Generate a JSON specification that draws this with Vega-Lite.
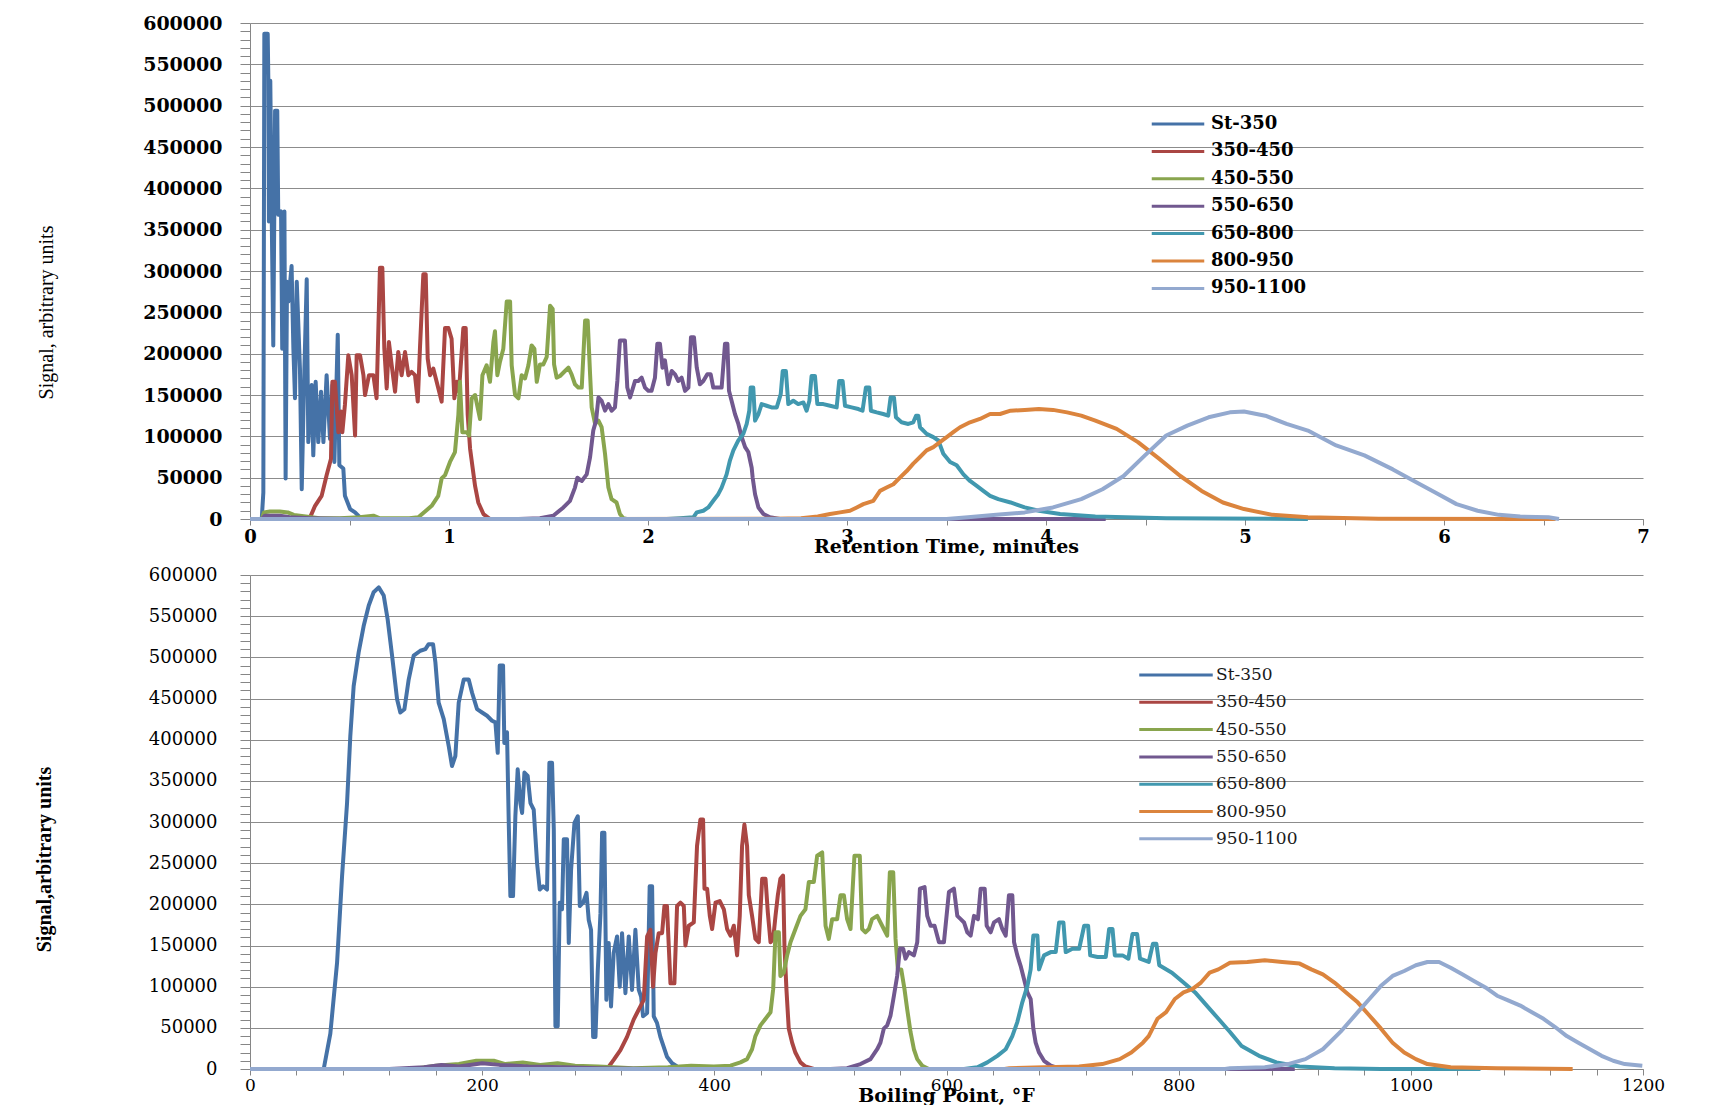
{
"$schema":"https://vega.github.io/schema/vega-lite/v6.json",
"background":"white",
"padding":{"left":34,"top":14,"right":10,"bottom":0},
"spacing":10,
"config":{"view":{"stroke":null},"axis":{"domainColor":"#868686","tickColor":"#868686","gridColor":"#8c8c8c","labelColor":"#000","titleColor":"#000","labelOverlap":false}},
"resolve":{"scale":{"color":"independent"},"legend":{"color":"independent"}},
"datasets":{
"top":[
{"s":"St-350","x":0.059,"y":0},{"s":"St-350","x":0.067,"y":32000},{"s":"St-350","x":0.072,"y":587000},{"s":"St-350","x":0.089,"y":587000},{"s":"St-350","x":0.092,"y":534000},{"s":"St-350","x":0.095,"y":360000},{"s":"St-350","x":0.102,"y":530000},{"s":"St-350","x":0.109,"y":368000},{"s":"St-350","x":0.117,"y":210000},{"s":"St-350","x":0.126,"y":494000},{"s":"St-350","x":0.137,"y":494000},{"s":"St-350","x":0.142,"y":368000},{"s":"St-350","x":0.156,"y":372000},{"s":"St-350","x":0.162,"y":206000},{"s":"St-350","x":0.173,"y":372000},{"s":"St-350","x":0.179,"y":49000},{"s":"St-350","x":0.186,"y":287000},{"s":"St-350","x":0.193,"y":263000},{"s":"St-350","x":0.209,"y":306000},{"s":"St-350","x":0.218,"y":206000},{"s":"St-350","x":0.226,"y":146000},{"s":"St-350","x":0.235,"y":287000},{"s":"St-350","x":0.251,"y":182000},{"s":"St-350","x":0.26,"y":36000},{"s":"St-350","x":0.273,"y":178000},{"s":"St-350","x":0.285,"y":290000},{"s":"St-350","x":0.293,"y":93000},{"s":"St-350","x":0.31,"y":162000},{"s":"St-350","x":0.318,"y":77000},{"s":"St-350","x":0.33,"y":166000},{"s":"St-350","x":0.343,"y":93000},{"s":"St-350","x":0.357,"y":154000},{"s":"St-350","x":0.369,"y":93000},{"s":"St-350","x":0.385,"y":174000},{"s":"St-350","x":0.402,"y":97000},{"s":"St-350","x":0.414,"y":162000},{"s":"St-350","x":0.424,"y":69000},{"s":"St-350","x":0.441,"y":223000},{"s":"St-350","x":0.449,"y":65000},{"s":"St-350","x":0.469,"y":61000},{"s":"St-350","x":0.477,"y":28000},{"s":"St-350","x":0.503,"y":12000},{"s":"St-350","x":0.528,"y":8000},{"s":"St-350","x":0.553,"y":2000},{"s":"St-350","x":0.578,"y":0},{"s":"St-350","x":0.7,"y":0},
{"s":"350-450","x":0.25,"y":0},{"s":"350-450","x":0.302,"y":2000},{"s":"350-450","x":0.327,"y":16000},{"s":"350-450","x":0.36,"y":28000},{"s":"350-450","x":0.385,"y":53000},{"s":"350-450","x":0.407,"y":73000},{"s":"350-450","x":0.414,"y":166000},{"s":"350-450","x":0.427,"y":166000},{"s":"350-450","x":0.444,"y":105000},{"s":"350-450","x":0.457,"y":130000},{"s":"350-450","x":0.464,"y":105000},{"s":"350-450","x":0.477,"y":138000},{"s":"350-450","x":0.494,"y":198000},{"s":"350-450","x":0.511,"y":174000},{"s":"350-450","x":0.528,"y":101000},{"s":"350-450","x":0.536,"y":198000},{"s":"350-450","x":0.553,"y":198000},{"s":"350-450","x":0.57,"y":174000},{"s":"350-450","x":0.578,"y":150000},{"s":"350-450","x":0.598,"y":174000},{"s":"350-450","x":0.62,"y":174000},{"s":"350-450","x":0.636,"y":146000},{"s":"350-450","x":0.653,"y":304000},{"s":"350-450","x":0.665,"y":304000},{"s":"350-450","x":0.675,"y":206000},{"s":"350-450","x":0.687,"y":158000},{"s":"350-450","x":0.698,"y":214000},{"s":"350-450","x":0.712,"y":186000},{"s":"350-450","x":0.729,"y":154000},{"s":"350-450","x":0.745,"y":202000},{"s":"350-450","x":0.762,"y":174000},{"s":"350-450","x":0.779,"y":202000},{"s":"350-450","x":0.796,"y":174000},{"s":"350-450","x":0.812,"y":178000},{"s":"350-450","x":0.829,"y":174000},{"s":"350-450","x":0.843,"y":142000},{"s":"350-450","x":0.854,"y":206000},{"s":"350-450","x":0.871,"y":296000},{"s":"350-450","x":0.883,"y":296000},{"s":"350-450","x":0.893,"y":194000},{"s":"350-450","x":0.905,"y":174000},{"s":"350-450","x":0.921,"y":182000},{"s":"350-450","x":0.938,"y":166000},{"s":"350-450","x":0.963,"y":142000},{"s":"350-450","x":0.98,"y":231000},{"s":"350-450","x":0.997,"y":231000},{"s":"350-450","x":1.013,"y":218000},{"s":"350-450","x":1.027,"y":146000},{"s":"350-450","x":1.039,"y":166000},{"s":"350-450","x":1.05,"y":154000},{"s":"350-450","x":1.072,"y":231000},{"s":"350-450","x":1.084,"y":231000},{"s":"350-450","x":1.094,"y":126000},{"s":"350-450","x":1.106,"y":85000},{"s":"350-450","x":1.117,"y":65000},{"s":"350-450","x":1.131,"y":40000},{"s":"350-450","x":1.147,"y":20000},{"s":"350-450","x":1.173,"y":6000},{"s":"350-450","x":1.206,"y":0},{"s":"350-450","x":1.5,"y":0},
{"s":"450-550","x":0.06,"y":0},{"s":"450-550","x":0.07,"y":8000},{"s":"450-550","x":0.1,"y":9000},{"s":"450-550","x":0.15,"y":9000},{"s":"450-550","x":0.19,"y":8000},{"s":"450-550","x":0.22,"y":5000},{"s":"450-550","x":0.28,"y":3000},{"s":"450-550","x":0.35,"y":1000},{"s":"450-550","x":0.45,"y":1000},{"s":"450-550","x":0.55,"y":2000},{"s":"450-550","x":0.62,"y":4000},{"s":"450-550","x":0.65,"y":1000},{"s":"450-550","x":0.8,"y":1000},{"s":"450-550","x":0.846,"y":2000},{"s":"450-550","x":0.913,"y":16000},{"s":"450-550","x":0.946,"y":28000},{"s":"450-550","x":0.963,"y":49000},{"s":"450-550","x":0.98,"y":53000},{"s":"450-550","x":1.005,"y":69000},{"s":"450-550","x":1.03,"y":81000},{"s":"450-550","x":1.047,"y":126000},{"s":"450-550","x":1.055,"y":166000},{"s":"450-550","x":1.067,"y":105000},{"s":"450-550","x":1.089,"y":105000},{"s":"450-550","x":1.101,"y":101000},{"s":"450-550","x":1.114,"y":146000},{"s":"450-550","x":1.131,"y":150000},{"s":"450-550","x":1.156,"y":121000},{"s":"450-550","x":1.168,"y":174000},{"s":"450-550","x":1.189,"y":186000},{"s":"450-550","x":1.206,"y":166000},{"s":"450-550","x":1.223,"y":214000},{"s":"450-550","x":1.231,"y":227000},{"s":"450-550","x":1.243,"y":174000},{"s":"450-550","x":1.256,"y":190000},{"s":"450-550","x":1.273,"y":206000},{"s":"450-550","x":1.29,"y":263000},{"s":"450-550","x":1.307,"y":263000},{"s":"450-550","x":1.315,"y":186000},{"s":"450-550","x":1.332,"y":150000},{"s":"450-550","x":1.349,"y":146000},{"s":"450-550","x":1.365,"y":174000},{"s":"450-550","x":1.382,"y":170000},{"s":"450-550","x":1.399,"y":186000},{"s":"450-550","x":1.415,"y":210000},{"s":"450-550","x":1.429,"y":206000},{"s":"450-550","x":1.441,"y":166000},{"s":"450-550","x":1.457,"y":187000},{"s":"450-550","x":1.474,"y":187000},{"s":"450-550","x":1.491,"y":196000},{"s":"450-550","x":1.508,"y":258000},{"s":"450-550","x":1.521,"y":254000},{"s":"450-550","x":1.528,"y":187000},{"s":"450-550","x":1.541,"y":171000},{"s":"450-550","x":1.558,"y":173000},{"s":"450-550","x":1.583,"y":179000},{"s":"450-550","x":1.6,"y":183000},{"s":"450-550","x":1.616,"y":175000},{"s":"450-550","x":1.633,"y":163000},{"s":"450-550","x":1.65,"y":159000},{"s":"450-550","x":1.667,"y":159000},{"s":"450-550","x":1.684,"y":240000},{"s":"450-550","x":1.697,"y":240000},{"s":"450-550","x":1.709,"y":175000},{"s":"450-550","x":1.717,"y":135000},{"s":"450-550","x":1.734,"y":115000},{"s":"450-550","x":1.751,"y":119000},{"s":"450-550","x":1.767,"y":111000},{"s":"450-550","x":1.784,"y":79000},{"s":"450-550","x":1.801,"y":38000},{"s":"450-550","x":1.817,"y":24000},{"s":"450-550","x":1.842,"y":20000},{"s":"450-550","x":1.859,"y":6000},{"s":"450-550","x":1.876,"y":1000},{"s":"450-550","x":1.893,"y":0},{"s":"450-550","x":2.2,"y":0},
{"s":"550-650","x":0.06,"y":0},{"s":"550-650","x":0.075,"y":4000},{"s":"550-650","x":0.15,"y":4000},{"s":"550-650","x":0.2,"y":2000},{"s":"550-650","x":0.3,"y":1000},{"s":"550-650","x":0.5,"y":0},{"s":"550-650","x":1.35,"y":0},{"s":"550-650","x":1.457,"y":1000},{"s":"550-650","x":1.524,"y":4000},{"s":"550-650","x":1.575,"y":14000},{"s":"550-650","x":1.608,"y":22000},{"s":"550-650","x":1.633,"y":38000},{"s":"550-650","x":1.645,"y":50000},{"s":"550-650","x":1.667,"y":46000},{"s":"550-650","x":1.692,"y":54000},{"s":"550-650","x":1.709,"y":75000},{"s":"550-650","x":1.725,"y":107000},{"s":"550-650","x":1.739,"y":119000},{"s":"550-650","x":1.751,"y":147000},{"s":"550-650","x":1.767,"y":143000},{"s":"550-650","x":1.784,"y":131000},{"s":"550-650","x":1.801,"y":139000},{"s":"550-650","x":1.817,"y":131000},{"s":"550-650","x":1.834,"y":135000},{"s":"550-650","x":1.846,"y":167000},{"s":"550-650","x":1.859,"y":216000},{"s":"550-650","x":1.884,"y":216000},{"s":"550-650","x":1.896,"y":159000},{"s":"550-650","x":1.91,"y":147000},{"s":"550-650","x":1.935,"y":167000},{"s":"550-650","x":1.951,"y":167000},{"s":"550-650","x":1.968,"y":171000},{"s":"550-650","x":1.985,"y":159000},{"s":"550-650","x":2.002,"y":155000},{"s":"550-650","x":2.018,"y":155000},{"s":"550-650","x":2.035,"y":171000},{"s":"550-650","x":2.047,"y":212000},{"s":"550-650","x":2.06,"y":212000},{"s":"550-650","x":2.073,"y":183000},{"s":"550-650","x":2.085,"y":192000},{"s":"550-650","x":2.102,"y":163000},{"s":"550-650","x":2.119,"y":179000},{"s":"550-650","x":2.136,"y":175000},{"s":"550-650","x":2.152,"y":167000},{"s":"550-650","x":2.169,"y":171000},{"s":"550-650","x":2.186,"y":155000},{"s":"550-650","x":2.203,"y":159000},{"s":"550-650","x":2.216,"y":220000},{"s":"550-650","x":2.231,"y":220000},{"s":"550-650","x":2.245,"y":183000},{"s":"550-650","x":2.261,"y":163000},{"s":"550-650","x":2.278,"y":167000},{"s":"550-650","x":2.298,"y":175000},{"s":"550-650","x":2.315,"y":175000},{"s":"550-650","x":2.328,"y":159000},{"s":"550-650","x":2.345,"y":159000},{"s":"550-650","x":2.37,"y":159000},{"s":"550-650","x":2.387,"y":212000},{"s":"550-650","x":2.399,"y":212000},{"s":"550-650","x":2.407,"y":155000},{"s":"550-650","x":2.42,"y":143000},{"s":"550-650","x":2.437,"y":127000},{"s":"550-650","x":2.454,"y":115000},{"s":"550-650","x":2.471,"y":99000},{"s":"550-650","x":2.488,"y":87000},{"s":"550-650","x":2.504,"y":81000},{"s":"550-650","x":2.521,"y":62000},{"s":"550-650","x":2.526,"y":50000},{"s":"550-650","x":2.538,"y":30000},{"s":"550-650","x":2.555,"y":14000},{"s":"550-650","x":2.58,"y":6000},{"s":"550-650","x":2.613,"y":2000},{"s":"550-650","x":2.663,"y":0},{"s":"550-650","x":4.3,"y":0},
{"s":"650-800","x":2.094,"y":0},{"s":"650-800","x":2.161,"y":1000},{"s":"650-800","x":2.228,"y":2000},{"s":"650-800","x":2.245,"y":8000},{"s":"650-800","x":2.278,"y":10000},{"s":"650-800","x":2.303,"y":14000},{"s":"650-800","x":2.328,"y":22000},{"s":"650-800","x":2.353,"y":30000},{"s":"650-800","x":2.37,"y":38000},{"s":"650-800","x":2.395,"y":54000},{"s":"650-800","x":2.412,"y":71000},{"s":"650-800","x":2.429,"y":83000},{"s":"650-800","x":2.454,"y":95000},{"s":"650-800","x":2.479,"y":103000},{"s":"650-800","x":2.496,"y":115000},{"s":"650-800","x":2.509,"y":131000},{"s":"650-800","x":2.516,"y":159000},{"s":"650-800","x":2.529,"y":159000},{"s":"650-800","x":2.538,"y":119000},{"s":"650-800","x":2.555,"y":127000},{"s":"650-800","x":2.571,"y":139000},{"s":"650-800","x":2.596,"y":137000},{"s":"650-800","x":2.621,"y":135000},{"s":"650-800","x":2.647,"y":135000},{"s":"650-800","x":2.667,"y":151000},{"s":"650-800","x":2.677,"y":179000},{"s":"650-800","x":2.693,"y":179000},{"s":"650-800","x":2.705,"y":139000},{"s":"650-800","x":2.73,"y":143000},{"s":"650-800","x":2.755,"y":139000},{"s":"650-800","x":2.781,"y":141000},{"s":"650-800","x":2.797,"y":131000},{"s":"650-800","x":2.811,"y":143000},{"s":"650-800","x":2.822,"y":173000},{"s":"650-800","x":2.839,"y":173000},{"s":"650-800","x":2.851,"y":139000},{"s":"650-800","x":2.881,"y":139000},{"s":"650-800","x":2.915,"y":137000},{"s":"650-800","x":2.948,"y":135000},{"s":"650-800","x":2.961,"y":167000},{"s":"650-800","x":2.978,"y":167000},{"s":"650-800","x":2.99,"y":137000},{"s":"650-800","x":3.023,"y":135000},{"s":"650-800","x":3.057,"y":133000},{"s":"650-800","x":3.078,"y":131000},{"s":"650-800","x":3.095,"y":159000},{"s":"650-800","x":3.112,"y":159000},{"s":"650-800","x":3.12,"y":131000},{"s":"650-800","x":3.149,"y":129000},{"s":"650-800","x":3.182,"y":127000},{"s":"650-800","x":3.207,"y":125000},{"s":"650-800","x":3.219,"y":147000},{"s":"650-800","x":3.236,"y":147000},{"s":"650-800","x":3.246,"y":123000},{"s":"650-800","x":3.274,"y":117000},{"s":"650-800","x":3.308,"y":115000},{"s":"650-800","x":3.333,"y":117000},{"s":"650-800","x":3.347,"y":125000},{"s":"650-800","x":3.358,"y":125000},{"s":"650-800","x":3.367,"y":111000},{"s":"650-800","x":3.4,"y":103000},{"s":"650-800","x":3.434,"y":99000},{"s":"650-800","x":3.459,"y":95000},{"s":"650-800","x":3.484,"y":79000},{"s":"650-800","x":3.518,"y":69000},{"s":"650-800","x":3.551,"y":65000},{"s":"650-800","x":3.585,"y":54000},{"s":"650-800","x":3.618,"y":46000},{"s":"650-800","x":3.652,"y":40000},{"s":"650-800","x":3.685,"y":34000},{"s":"650-800","x":3.719,"y":28000},{"s":"650-800","x":3.76,"y":24000},{"s":"650-800","x":3.822,"y":20000},{"s":"650-800","x":3.893,"y":14000},{"s":"650-800","x":3.964,"y":10000},{"s":"650-800","x":4.071,"y":6000},{"s":"650-800","x":4.248,"y":3000},{"s":"650-800","x":4.604,"y":1000},{"s":"650-800","x":5.316,"y":0},
{"s":"800-950","x":1.8,"y":0},{"s":"800-950","x":2.638,"y":400},{"s":"800-950","x":2.769,"y":1000},{"s":"800-950","x":2.853,"y":3000},{"s":"800-950","x":2.915,"y":6000},{"s":"800-950","x":2.965,"y":8000},{"s":"800-950","x":3.015,"y":10000},{"s":"800-950","x":3.049,"y":14000},{"s":"800-950","x":3.082,"y":18000},{"s":"800-950","x":3.132,"y":22000},{"s":"800-950","x":3.166,"y":34000},{"s":"800-950","x":3.199,"y":38000},{"s":"800-950","x":3.233,"y":42000},{"s":"800-950","x":3.266,"y":50000},{"s":"800-950","x":3.3,"y":58000},{"s":"800-950","x":3.333,"y":67000},{"s":"800-950","x":3.367,"y":75000},{"s":"800-950","x":3.4,"y":83000},{"s":"800-950","x":3.434,"y":87000},{"s":"800-950","x":3.467,"y":93000},{"s":"800-950","x":3.501,"y":99000},{"s":"800-950","x":3.534,"y":105000},{"s":"800-950","x":3.568,"y":111000},{"s":"800-950","x":3.618,"y":117000},{"s":"800-950","x":3.668,"y":121000},{"s":"800-950","x":3.719,"y":127000},{"s":"800-950","x":3.769,"y":127000},{"s":"800-950","x":3.822,"y":131000},{"s":"800-950","x":3.893,"y":132000},{"s":"800-950","x":3.964,"y":133000},{"s":"800-950","x":4.035,"y":132000},{"s":"800-950","x":4.106,"y":129000},{"s":"800-950","x":4.177,"y":125000},{"s":"800-950","x":4.248,"y":119000},{"s":"800-950","x":4.355,"y":109000},{"s":"800-950","x":4.462,"y":93000},{"s":"800-950","x":4.568,"y":73000},{"s":"800-950","x":4.675,"y":52000},{"s":"800-950","x":4.782,"y":34000},{"s":"800-950","x":4.889,"y":20000},{"s":"800-950","x":4.995,"y":12000},{"s":"800-950","x":5.137,"y":5000},{"s":"800-950","x":5.316,"y":2000},{"s":"800-950","x":5.671,"y":400},{"s":"800-950","x":6.561,"y":0},
{"s":"950-1100","x":0,"y":0},{"s":"950-1100","x":3.5,"y":0},{"s":"950-1100","x":3.608,"y":2000},{"s":"950-1100","x":3.75,"y":5000},{"s":"950-1100","x":3.893,"y":8000},{"s":"950-1100","x":4.035,"y":14000},{"s":"950-1100","x":4.177,"y":24000},{"s":"950-1100","x":4.284,"y":36000},{"s":"950-1100","x":4.39,"y":52000},{"s":"950-1100","x":4.497,"y":77000},{"s":"950-1100","x":4.604,"y":101000},{"s":"950-1100","x":4.71,"y":113000},{"s":"950-1100","x":4.817,"y":123000},{"s":"950-1100","x":4.924,"y":129000},{"s":"950-1100","x":4.995,"y":130000},{"s":"950-1100","x":5.102,"y":125000},{"s":"950-1100","x":5.209,"y":115000},{"s":"950-1100","x":5.316,"y":107000},{"s":"950-1100","x":5.458,"y":89000},{"s":"950-1100","x":5.6,"y":77000},{"s":"950-1100","x":5.743,"y":60000},{"s":"950-1100","x":5.849,"y":46000},{"s":"950-1100","x":5.956,"y":32000},{"s":"950-1100","x":6.063,"y":18000},{"s":"950-1100","x":6.169,"y":10000},{"s":"950-1100","x":6.276,"y":5000},{"s":"950-1100","x":6.383,"y":3000},{"s":"950-1100","x":6.525,"y":2000},{"s":"950-1100","x":6.578,"y":0}
],
"bot":[
{"s":"St-350","x":63.5,"y":0},{"s":"St-350","x":69.2,"y":43000},{"s":"St-350","x":75,"y":129000},{"s":"St-350","x":79.3,"y":234000},{"s":"St-350","x":83.6,"y":323000},{"s":"St-350","x":86.4,"y":404000},{"s":"St-350","x":89.3,"y":465000},{"s":"St-350","x":93.6,"y":506000},{"s":"St-350","x":97.9,"y":538000},{"s":"St-350","x":102.3,"y":563000},{"s":"St-350","x":106.5,"y":579000},{"s":"St-350","x":110.9,"y":585000},{"s":"St-350","x":115.2,"y":575000},{"s":"St-350","x":118.6,"y":546000},{"s":"St-350","x":122.4,"y":502000},{"s":"St-350","x":126.7,"y":449000},{"s":"St-350","x":129.5,"y":433000},{"s":"St-350","x":133,"y":437000},{"s":"St-350","x":136.7,"y":473000},{"s":"St-350","x":141,"y":502000},{"s":"St-350","x":146.7,"y":508000},{"s":"St-350","x":151.1,"y":510000},{"s":"St-350","x":153.9,"y":516000},{"s":"St-350","x":157.7,"y":516000},{"s":"St-350","x":159.7,"y":494000},{"s":"St-350","x":162.5,"y":445000},{"s":"St-350","x":166.9,"y":425000},{"s":"St-350","x":171.2,"y":392000},{"s":"St-350","x":174,"y":368000},{"s":"St-350","x":176.9,"y":380000},{"s":"St-350","x":179.8,"y":445000},{"s":"St-350","x":184.1,"y":473000},{"s":"St-350","x":188.4,"y":473000},{"s":"St-350","x":191.3,"y":457000},{"s":"St-350","x":195.6,"y":437000},{"s":"St-350","x":199.9,"y":433000},{"s":"St-350","x":204.2,"y":429000},{"s":"St-350","x":208.5,"y":423000},{"s":"St-350","x":211.4,"y":421000},{"s":"St-350","x":213.4,"y":384000},{"s":"St-350","x":215.1,"y":490000},{"s":"St-350","x":218,"y":490000},{"s":"St-350","x":219.1,"y":396000},{"s":"St-350","x":221.4,"y":409000},{"s":"St-350","x":222.9,"y":299000},{"s":"St-350","x":224.3,"y":210000},{"s":"St-350","x":226.6,"y":210000},{"s":"St-350","x":228.6,"y":307000},{"s":"St-350","x":230.6,"y":364000},{"s":"St-350","x":232.9,"y":323000},{"s":"St-350","x":234.4,"y":311000},{"s":"St-350","x":236.4,"y":360000},{"s":"St-350","x":239.2,"y":356000},{"s":"St-350","x":241.6,"y":323000},{"s":"St-350","x":244.4,"y":315000},{"s":"St-350","x":247.3,"y":250000},{"s":"St-350","x":249.6,"y":218000},{"s":"St-350","x":252.5,"y":222000},{"s":"St-350","x":255.9,"y":218000},{"s":"St-350","x":257.9,"y":372000},{"s":"St-350","x":260.2,"y":372000},{"s":"St-350","x":261.7,"y":291000},{"s":"St-350","x":263.1,"y":52000},{"s":"St-350","x":265.1,"y":52000},{"s":"St-350","x":266.8,"y":202000},{"s":"St-350","x":268.8,"y":194000},{"s":"St-350","x":270.3,"y":279000},{"s":"St-350","x":273.1,"y":279000},{"s":"St-350","x":274.6,"y":153000},{"s":"St-350","x":276.6,"y":242000},{"s":"St-350","x":279.5,"y":299000},{"s":"St-350","x":282.4,"y":307000},{"s":"St-350","x":284.1,"y":198000},{"s":"St-350","x":287,"y":202000},{"s":"St-350","x":289.9,"y":214000},{"s":"St-350","x":291.8,"y":181000},{"s":"St-350","x":293.8,"y":169000},{"s":"St-350","x":295.6,"y":39000},{"s":"St-350","x":297.6,"y":39000},{"s":"St-350","x":299.6,"y":120000},{"s":"St-350","x":301.9,"y":189000},{"s":"St-350","x":303.3,"y":287000},{"s":"St-350","x":305.3,"y":287000},{"s":"St-350","x":307,"y":84000},{"s":"St-350","x":309,"y":153000},{"s":"St-350","x":311,"y":76000},{"s":"St-350","x":313.3,"y":141000},{"s":"St-350","x":316.2,"y":161000},{"s":"St-350","x":318.5,"y":100000},{"s":"St-350","x":320.5,"y":165000},{"s":"St-350","x":323.4,"y":92000},{"s":"St-350","x":326.3,"y":161000},{"s":"St-350","x":329.1,"y":96000},{"s":"St-350","x":332,"y":169000},{"s":"St-350","x":334.9,"y":96000},{"s":"St-350","x":336.9,"y":88000},{"s":"St-350","x":338.6,"y":64000},{"s":"St-350","x":342.1,"y":68000},{"s":"St-350","x":344.3,"y":222000},{"s":"St-350","x":346.4,"y":222000},{"s":"St-350","x":347.8,"y":64000},{"s":"St-350","x":350.6,"y":56000},{"s":"St-350","x":353.5,"y":39000},{"s":"St-350","x":356.4,"y":27000},{"s":"St-350","x":359.2,"y":15000},{"s":"St-350","x":363.6,"y":7000},{"s":"St-350","x":367.9,"y":3000},{"s":"St-350","x":373.6,"y":0},{"s":"St-350","x":400,"y":0},
{"s":"350-450","x":300,"y":0},{"s":"350-450","x":307.6,"y":0},{"s":"350-450","x":313.3,"y":11000},{"s":"350-450","x":319.1,"y":23000},{"s":"350-450","x":324.8,"y":39000},{"s":"350-450","x":330.5,"y":60000},{"s":"350-450","x":333.4,"y":68000},{"s":"350-450","x":339.2,"y":84000},{"s":"350-450","x":342.1,"y":161000},{"s":"350-450","x":344.9,"y":169000},{"s":"350-450","x":347.2,"y":100000},{"s":"350-450","x":349.3,"y":141000},{"s":"350-450","x":352.1,"y":165000},{"s":"350-450","x":355,"y":165000},{"s":"350-450","x":357,"y":198000},{"s":"350-450","x":359.2,"y":198000},{"s":"350-450","x":362.2,"y":104000},{"s":"350-450","x":365.6,"y":104000},{"s":"350-450","x":367.9,"y":198000},{"s":"350-450","x":370.8,"y":202000},{"s":"350-450","x":373.7,"y":198000},{"s":"350-450","x":375.1,"y":150000},{"s":"350-450","x":378,"y":174000},{"s":"350-450","x":382.3,"y":178000},{"s":"350-450","x":385.1,"y":271000},{"s":"350-450","x":388,"y":303000},{"s":"350-450","x":390.3,"y":303000},{"s":"350-450","x":391.5,"y":219000},{"s":"350-450","x":393.8,"y":219000},{"s":"350-450","x":396.1,"y":186000},{"s":"350-450","x":398.1,"y":170000},{"s":"350-450","x":401,"y":202000},{"s":"350-450","x":404.7,"y":204000},{"s":"350-450","x":408.2,"y":194000},{"s":"350-450","x":411,"y":170000},{"s":"350-450","x":413.9,"y":162000},{"s":"350-450","x":416.8,"y":174000},{"s":"350-450","x":419.6,"y":138000},{"s":"350-450","x":421.9,"y":186000},{"s":"350-450","x":423.9,"y":271000},{"s":"350-450","x":425.9,"y":297000},{"s":"350-450","x":428.2,"y":271000},{"s":"350-450","x":429.7,"y":211000},{"s":"350-450","x":432.5,"y":186000},{"s":"350-450","x":435.4,"y":158000},{"s":"350-450","x":438.3,"y":154000},{"s":"350-450","x":441.2,"y":231000},{"s":"350-450","x":444.1,"y":231000},{"s":"350-450","x":446.1,"y":190000},{"s":"350-450","x":448.4,"y":154000},{"s":"350-450","x":450.7,"y":158000},{"s":"350-450","x":452.7,"y":186000},{"s":"350-450","x":454.7,"y":211000},{"s":"350-450","x":456.9,"y":231000},{"s":"350-450","x":459.2,"y":235000},{"s":"350-450","x":460.4,"y":150000},{"s":"350-450","x":462.1,"y":97000},{"s":"350-450","x":464.1,"y":49000},{"s":"350-450","x":467,"y":32000},{"s":"350-450","x":469.8,"y":20000},{"s":"350-450","x":474.2,"y":8000},{"s":"350-450","x":478.5,"y":3000},{"s":"350-450","x":485.7,"y":0},{"s":"350-450","x":600,"y":0},
{"s":"450-550","x":140,"y":0},{"s":"450-550","x":160,"y":4000},{"s":"450-550","x":180,"y":6000},{"s":"450-550","x":195,"y":10000},{"s":"450-550","x":210,"y":10000},{"s":"450-550","x":220,"y":6000},{"s":"450-550","x":235,"y":8000},{"s":"450-550","x":250,"y":5000},{"s":"450-550","x":265,"y":7000},{"s":"450-550","x":280,"y":4000},{"s":"450-550","x":300,"y":3000},{"s":"450-550","x":330,"y":1000},{"s":"450-550","x":360,"y":2000},{"s":"450-550","x":380,"y":4000},{"s":"450-550","x":399.5,"y":3000},{"s":"450-550","x":413.9,"y":4000},{"s":"450-550","x":422.5,"y":8000},{"s":"450-550","x":428.2,"y":12000},{"s":"450-550","x":432.5,"y":24000},{"s":"450-550","x":435.4,"y":40000},{"s":"450-550","x":439.7,"y":53000},{"s":"450-550","x":444.1,"y":61000},{"s":"450-550","x":448.4,"y":69000},{"s":"450-550","x":450.7,"y":97000},{"s":"450-550","x":452.7,"y":166000},{"s":"450-550","x":455.6,"y":166000},{"s":"450-550","x":456.9,"y":113000},{"s":"450-550","x":459.8,"y":117000},{"s":"450-550","x":462.7,"y":138000},{"s":"450-550","x":465.6,"y":154000},{"s":"450-550","x":469.9,"y":170000},{"s":"450-550","x":474.2,"y":186000},{"s":"450-550","x":478.5,"y":194000},{"s":"450-550","x":481.4,"y":227000},{"s":"450-550","x":485.7,"y":227000},{"s":"450-550","x":488.6,"y":259000},{"s":"450-550","x":492.9,"y":263000},{"s":"450-550","x":495.8,"y":174000},{"s":"450-550","x":498.6,"y":158000},{"s":"450-550","x":501.5,"y":182000},{"s":"450-550","x":505.8,"y":182000},{"s":"450-550","x":508.7,"y":211000},{"s":"450-550","x":511.6,"y":211000},{"s":"450-550","x":514.4,"y":182000},{"s":"450-550","x":517.3,"y":170000},{"s":"450-550","x":520.7,"y":259000},{"s":"450-550","x":525.3,"y":259000},{"s":"450-550","x":527.3,"y":170000},{"s":"450-550","x":530.2,"y":166000},{"s":"450-550","x":533.1,"y":170000},{"s":"450-550","x":535.9,"y":182000},{"s":"450-550","x":540.3,"y":186000},{"s":"450-550","x":543.1,"y":178000},{"s":"450-550","x":546,"y":170000},{"s":"450-550","x":548.9,"y":162000},{"s":"450-550","x":551.2,"y":239000},{"s":"450-550","x":554.1,"y":239000},{"s":"450-550","x":556.1,"y":158000},{"s":"450-550","x":558.1,"y":121000},{"s":"450-550","x":561,"y":121000},{"s":"450-550","x":563.8,"y":97000},{"s":"450-550","x":566.1,"y":73000},{"s":"450-550","x":569,"y":45000},{"s":"450-550","x":571.9,"y":24000},{"s":"450-550","x":574.8,"y":12000},{"s":"450-550","x":579.1,"y":4000},{"s":"450-550","x":584.8,"y":0},{"s":"450-550","x":700,"y":0},
{"s":"550-650","x":120,"y":0},{"s":"550-650","x":150,"y":2000},{"s":"550-650","x":165,"y":5000},{"s":"550-650","x":180,"y":3000},{"s":"550-650","x":200,"y":7000},{"s":"550-650","x":215,"y":5000},{"s":"550-650","x":240,"y":3000},{"s":"550-650","x":270,"y":2000},{"s":"550-650","x":300,"y":1000},{"s":"550-650","x":350,"y":0},{"s":"550-650","x":500.1,"y":0},{"s":"550-650","x":514.4,"y":1000},{"s":"550-650","x":525.9,"y":6000},{"s":"550-650","x":534.5,"y":12000},{"s":"550-650","x":540.3,"y":24000},{"s":"550-650","x":543.1,"y":32000},{"s":"550-650","x":546,"y":49000},{"s":"550-650","x":548.9,"y":53000},{"s":"550-650","x":551.8,"y":65000},{"s":"550-650","x":554.7,"y":89000},{"s":"550-650","x":557.5,"y":113000},{"s":"550-650","x":559.8,"y":146000},{"s":"550-650","x":562.7,"y":146000},{"s":"550-650","x":564.7,"y":134000},{"s":"550-650","x":567.6,"y":142000},{"s":"550-650","x":571.9,"y":138000},{"s":"550-650","x":574.8,"y":154000},{"s":"550-650","x":577.1,"y":219000},{"s":"550-650","x":581.1,"y":221000},{"s":"550-650","x":583.4,"y":186000},{"s":"550-650","x":586.3,"y":174000},{"s":"550-650","x":589.7,"y":174000},{"s":"550-650","x":593.5,"y":154000},{"s":"550-650","x":597.8,"y":154000},{"s":"550-650","x":602.1,"y":215000},{"s":"550-650","x":606.4,"y":219000},{"s":"550-650","x":609.3,"y":186000},{"s":"550-650","x":612.2,"y":182000},{"s":"550-650","x":615.1,"y":178000},{"s":"550-650","x":617.9,"y":166000},{"s":"550-650","x":620.8,"y":162000},{"s":"550-650","x":623.7,"y":186000},{"s":"550-650","x":627.1,"y":182000},{"s":"550-650","x":629.4,"y":219000},{"s":"550-650","x":632.9,"y":219000},{"s":"550-650","x":634.6,"y":174000},{"s":"550-650","x":638,"y":166000},{"s":"550-650","x":640.9,"y":178000},{"s":"550-650","x":645.2,"y":182000},{"s":"550-650","x":648.1,"y":170000},{"s":"550-650","x":651,"y":162000},{"s":"550-650","x":653.8,"y":211000},{"s":"550-650","x":656.7,"y":211000},{"s":"550-650","x":658.2,"y":154000},{"s":"550-650","x":661,"y":138000},{"s":"550-650","x":663.9,"y":125000},{"s":"550-650","x":666.8,"y":109000},{"s":"550-650","x":669.7,"y":93000},{"s":"550-650","x":672.5,"y":85000},{"s":"550-650","x":674.8,"y":49000},{"s":"550-650","x":676.8,"y":32000},{"s":"550-650","x":679.7,"y":20000},{"s":"550-650","x":684,"y":10000},{"s":"550-650","x":689.8,"y":4000},{"s":"550-650","x":698.4,"y":0},{"s":"550-650","x":900,"y":0},
{"s":"650-800","x":600,"y":0},{"s":"650-800","x":615.1,"y":0},{"s":"650-800","x":626.6,"y":2000},{"s":"650-800","x":635.2,"y":8000},{"s":"650-800","x":643.8,"y":16000},{"s":"650-800","x":651,"y":24000},{"s":"650-800","x":656.7,"y":40000},{"s":"650-800","x":661,"y":57000},{"s":"650-800","x":665.3,"y":81000},{"s":"650-800","x":669.7,"y":101000},{"s":"650-800","x":672.5,"y":121000},{"s":"650-800","x":674.8,"y":162000},{"s":"650-800","x":678.3,"y":162000},{"s":"650-800","x":679.7,"y":121000},{"s":"650-800","x":684,"y":138000},{"s":"650-800","x":689.8,"y":142000},{"s":"650-800","x":694.1,"y":142000},{"s":"650-800","x":697,"y":178000},{"s":"650-800","x":700.7,"y":178000},{"s":"650-800","x":702.7,"y":142000},{"s":"650-800","x":708.5,"y":146000},{"s":"650-800","x":714.3,"y":146000},{"s":"650-800","x":718.6,"y":174000},{"s":"650-800","x":722,"y":174000},{"s":"650-800","x":723.8,"y":138000},{"s":"650-800","x":730.1,"y":136000},{"s":"650-800","x":737.2,"y":136000},{"s":"650-800","x":740.1,"y":170000},{"s":"650-800","x":743,"y":170000},{"s":"650-800","x":745,"y":138000},{"s":"650-800","x":751.7,"y":138000},{"s":"650-800","x":756.7,"y":134000},{"s":"650-800","x":760.2,"y":164000},{"s":"650-800","x":764.2,"y":164000},{"s":"650-800","x":766.7,"y":134000},{"s":"650-800","x":774.2,"y":130000},{"s":"650-800","x":777.8,"y":152000},{"s":"650-800","x":780.8,"y":152000},{"s":"650-800","x":783.3,"y":126000},{"s":"650-800","x":794.2,"y":117000},{"s":"650-800","x":804.2,"y":105000},{"s":"650-800","x":814.2,"y":93000},{"s":"650-800","x":824.2,"y":77000},{"s":"650-800","x":834.2,"y":61000},{"s":"650-800","x":844.2,"y":45000},{"s":"650-800","x":854.2,"y":28000},{"s":"650-800","x":869.2,"y":16000},{"s":"650-800","x":884.2,"y":8000},{"s":"650-800","x":904.2,"y":3000},{"s":"650-800","x":934.3,"y":1000},{"s":"650-800","x":974.3,"y":0},{"s":"650-800","x":1060,"y":0},
{"s":"800-950","x":650,"y":0},{"s":"800-950","x":654.2,"y":1000},{"s":"800-950","x":684.2,"y":2000},{"s":"800-950","x":714.2,"y":3000},{"s":"800-950","x":734.2,"y":6000},{"s":"800-950","x":749.2,"y":12000},{"s":"800-950","x":759.2,"y":20000},{"s":"800-950","x":769.2,"y":32000},{"s":"800-950","x":774.2,"y":40000},{"s":"800-950","x":781.7,"y":61000},{"s":"800-950","x":789.2,"y":69000},{"s":"800-950","x":796.7,"y":85000},{"s":"800-950","x":804.2,"y":93000},{"s":"800-950","x":811.7,"y":97000},{"s":"800-950","x":819.2,"y":105000},{"s":"800-950","x":826.7,"y":117000},{"s":"800-950","x":834.2,"y":121000},{"s":"800-950","x":844.2,"y":129000},{"s":"800-950","x":859.2,"y":130000},{"s":"800-950","x":874.2,"y":132000},{"s":"800-950","x":889.2,"y":130000},{"s":"800-950","x":904.2,"y":128000},{"s":"800-950","x":914.2,"y":121000},{"s":"800-950","x":924.2,"y":115000},{"s":"800-950","x":934.2,"y":105000},{"s":"800-950","x":944.2,"y":93000},{"s":"800-950","x":954.2,"y":81000},{"s":"800-950","x":964.3,"y":65000},{"s":"800-950","x":974.3,"y":49000},{"s":"800-950","x":984.3,"y":32000},{"s":"800-950","x":994.3,"y":20000},{"s":"800-950","x":1004.3,"y":12000},{"s":"800-950","x":1014.3,"y":6000},{"s":"800-950","x":1034.3,"y":2000},{"s":"800-950","x":1074.3,"y":1000},{"s":"800-950","x":1139.4,"y":0},
{"s":"950-1100","x":0,"y":0},{"s":"950-1100","x":840,"y":0},{"s":"950-1100","x":844.2,"y":1000},{"s":"950-1100","x":874.2,"y":2000},{"s":"950-1100","x":894.2,"y":6000},{"s":"950-1100","x":909.2,"y":12000},{"s":"950-1100","x":924.2,"y":24000},{"s":"950-1100","x":939.3,"y":45000},{"s":"950-1100","x":954.3,"y":69000},{"s":"950-1100","x":964.3,"y":85000},{"s":"950-1100","x":974.3,"y":101000},{"s":"950-1100","x":984.3,"y":113000},{"s":"950-1100","x":994.3,"y":119000},{"s":"950-1100","x":1004.3,"y":126000},{"s":"950-1100","x":1014.3,"y":130000},{"s":"950-1100","x":1024.3,"y":130000},{"s":"950-1100","x":1034.3,"y":123000},{"s":"950-1100","x":1044.3,"y":115000},{"s":"950-1100","x":1054.3,"y":107000},{"s":"950-1100","x":1064.3,"y":99000},{"s":"950-1100","x":1074.3,"y":89000},{"s":"950-1100","x":1084.3,"y":83000},{"s":"950-1100","x":1094.3,"y":77000},{"s":"950-1100","x":1104.3,"y":69000},{"s":"950-1100","x":1114.3,"y":61000},{"s":"950-1100","x":1124.3,"y":51000},{"s":"950-1100","x":1134.3,"y":40000},{"s":"950-1100","x":1144.3,"y":32000},{"s":"950-1100","x":1154.3,"y":24000},{"s":"950-1100","x":1164.3,"y":16000},{"s":"950-1100","x":1174.3,"y":10000},{"s":"950-1100","x":1184.3,"y":6000},{"s":"950-1100","x":1199.4,"y":4000}
]
},
"vconcat":[
{
"width":1393,"height":496,
"data":{"name":"top"},
"mark":{"type":"line","strokeWidth":4,"strokeJoin":"round"},
"encoding":{
"x":{"field":"x","type":"quantitative","scale":{"domain":[0,7],"nice":false,"zero":false},
"axis":{"title":"Retention Time, minutes","values":[0,0.5,1,1.5,2,2.5,3,3.5,4,4.5,5,5.5,6,6.5,7],"labelExpr":"datum.value % 1 === 0 ? '' + datum.value : ''","labelFlush":false,"grid":false,"tickSize":6,"labelPadding":3,"labelFont":"DejaVu Serif","labelFontWeight":"bold","labelFontSize":18,"titleFont":"DejaVu Serif","titleFontWeight":"bold","titleFontSize":19,"titleX":696,"titleY":27,"titleAlign":"center","titleBaseline":"middle"}},
"y":{"field":"y","type":"quantitative","scale":{"domain":[0,600000],"nice":false},
"axis":{"title":"Signal, arbitrary units","values":[0,10000,20000,30000,40000,50000,60000,70000,80000,90000,100000,110000,120000,130000,140000,150000,160000,170000,180000,190000,200000,210000,220000,230000,240000,250000,260000,270000,280000,290000,300000,310000,320000,330000,340000,350000,360000,370000,380000,390000,400000,410000,420000,430000,440000,450000,460000,470000,480000,490000,500000,510000,520000,530000,540000,550000,560000,570000,580000,590000,600000],"format":"d","labelExpr":"datum.value % 50000 === 0 ? datum.label : ''","grid":true,"gridOpacity":{"condition":{"test":"datum.value % 50000 === 0","value":1},"value":0},"tickSize":10,"labelPadding":18,"labelFont":"DejaVu Serif","labelFontWeight":"bold","labelFontSize":19,"titleFont":"Liberation Serif","titleFontWeight":"normal","titleFontSize":20,"titleX":-204,"titleY":289,"titleAngle":-90,"titleAlign":"center","titleBaseline":"middle"}},
"color":{"field":"s","type":"nominal","scale":{"domain":["St-350","350-450","450-550","550-650","650-800","800-950","950-1100"],"range":["#4572A7","#AA4643","#89A54E","#71588F","#4198AF","#DB843D","#93A9CF"]},
"legend":{"orient":"none","legendX":916,"legendY":89,"title":null,"padding":0,"symbolType":"M-2.5,0H2.5","symbolSize":441,"symbolStrokeWidth":3,"labelFont":"DejaVu Serif","labelFontWeight":"bold","labelFontSize":18,"labelColor":"#000","labelOffset":21,"rowPadding":6.4}}
}
},
{
"width":1393,"height":494,
"data":{"name":"bot"},
"mark":{"type":"line","strokeWidth":4,"strokeJoin":"round"},
"encoding":{
"x":{"field":"x","type":"quantitative","scale":{"domain":[0,1200],"nice":false,"zero":false},
"axis":{"title":"Boiling Point, °F","values":[0,40,80,120,160,200,240,280,320,360,400,440,480,520,560,600,640,680,720,760,800,840,880,920,960,1000,1040,1080,1120,1160,1200],"labelExpr":"datum.value % 200 === 0 ? '' + datum.value : ''","labelFlush":false,"grid":false,"tickSize":6,"labelPadding":2,"labelFont":"DejaVu Serif","labelFontSize":17,"titleFont":"DejaVu Serif","titleFontWeight":"bold","titleFontSize":19,"titleX":696,"titleY":26,"titleAlign":"center","titleBaseline":"middle"}},
"y":{"field":"y","type":"quantitative","scale":{"domain":[0,600000],"nice":false},
"axis":{"title":"Signal,arbitrary units","values":[0,10000,20000,30000,40000,50000,60000,70000,80000,90000,100000,110000,120000,130000,140000,150000,160000,170000,180000,190000,200000,210000,220000,230000,240000,250000,260000,270000,280000,290000,300000,310000,320000,330000,340000,350000,360000,370000,380000,390000,400000,410000,420000,430000,440000,450000,460000,470000,480000,490000,500000,510000,520000,530000,540000,550000,560000,570000,580000,590000,600000],"format":"d","labelExpr":"datum.value % 50000 === 0 ? datum.label : ''","grid":true,"gridOpacity":{"condition":{"test":"datum.value % 50000 === 0","value":1},"value":0},"tickSize":10,"labelPadding":23,"labelFont":"DejaVu Serif","labelFontSize":18,"titleFont":"Liberation Serif","titleFontWeight":"bold","titleFontSize":20,"titleX":-206,"titleY":284,"titleAngle":-90,"titleAlign":"center","titleBaseline":"middle"}},
"color":{"field":"s","type":"nominal","scale":{"domain":["St-350","350-450","450-550","550-650","650-800","800-950","950-1100"],"range":["#4572A7","#AA4643","#89A54E","#71588F","#4198AF","#DB843D","#93A9CF"]},
"legend":{"orient":"none","legendX":914,"legendY":88,"title":null,"padding":0,"symbolType":"M-3.5,0H3.5","symbolSize":441,"symbolStrokeWidth":3,"labelFont":"DejaVu Serif","labelFontSize":17,"labelColor":"#1a1a1a","labelOffset":28,"rowPadding":7.3}}
}
}
]
}
